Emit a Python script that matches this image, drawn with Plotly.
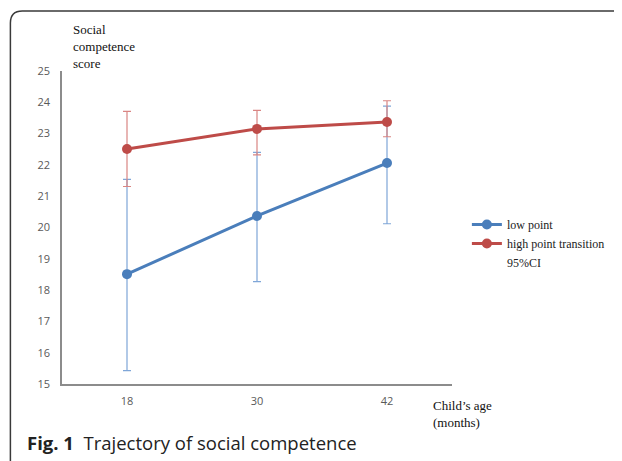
import plotly.graph_objects as go

ages = ["18", "30", "42"]
low_mean = [18.51, 20.37, 22.06]
low_upper = [21.54, 22.40, 23.88]
low_lower = [15.43, 18.27, 20.12]
high_mean = [22.51, 23.15, 23.37]
high_upper = [23.71, 23.74, 24.05]
high_lower = [21.31, 22.32, 22.90]
y_ticks = [15, 16, 17, 18, 19, 20, 21, 22, 23, 24, 25]

OFF = 8                  # page body margin
W, H = 622 - OFF, 461 - OFF
L, R, T, B = 62, 455, 71, 384  # plot area in screen pixels


def px(x):
    return (x - L) / (R - L)


def py(y):
    return (B - y) / (B - T)


BLUE = "#4A7EBB"
RED = "#BE4B48"
SERIF = "Liberation Serif, DejaVu Serif, serif"

fig = go.Figure()
fig.add_trace(go.Scatter(
    x=ages, y=low_mean, name="low point", mode="lines+markers",
    line=dict(color=BLUE, width=3), marker=dict(size=10, color=BLUE),
    error_y=dict(type="data", symmetric=False,
                 array=[u - m for u, m in zip(low_upper, low_mean)],
                 arrayminus=[m - l for m, l in zip(low_mean, low_lower)],
                 color="#7FA6D8", thickness=1.2, width=4),
))
fig.add_trace(go.Scatter(
    x=ages, y=high_mean, name="high point transition", mode="lines+markers",
    line=dict(color=RED, width=3), marker=dict(size=10, color=RED),
    error_y=dict(type="data", symmetric=False,
                 array=[u - m for u, m in zip(high_upper, high_mean)],
                 arrayminus=[m - l for m, l in zip(high_mean, high_lower)],
                 color="#D98583", thickness=1.2, width=4),
))
fig.add_trace(go.Scatter(
    x=[None], y=[None], name="95%CI", mode="lines",
    line=dict(color="rgba(0,0,0,0)", width=0),
))

tickfont = dict(family="Open Sans, sans-serif", size=11, color="#595959")
fig.update_layout(
    width=W, height=H,
    margin=dict(l=L - OFF, r=W - (R - OFF), t=T - OFF, b=H - (B - OFF)),
    paper_bgcolor="white", plot_bgcolor="white",
    showlegend=True,
    legend=dict(x=px(470), y=py(210), xanchor="left", yanchor="top",
                font=dict(family=SERIF, size=12, color="#222"),
                bgcolor="rgba(0,0,0,0)", itemwidth=30),
    xaxis=dict(type="category", range=[-0.5, 2.5], showgrid=False,
               showline=True, linecolor="#8C8C8C", linewidth=1.5,
               ticks="outside", ticklen=6, tickcolor="rgba(0,0,0,0)",
               tickfont=tickfont, zeroline=False),
    yaxis=dict(range=[15, 25], tickvals=y_ticks, showgrid=False,
               showline=True, linecolor="#8C8C8C", linewidth=1.5,
               ticks="outside", ticklen=8, tickcolor="rgba(0,0,0,0)",
               tickfont=tickfont, zeroline=False),
    font=dict(family=SERIF),
)

# y-axis title
fig.add_annotation(x=px(71), y=py(46.5), xref="paper", yref="paper",
                   xanchor="left", yanchor="middle", align="left", showarrow=False,
                   text="Social<br>competence<br>score",
                   font=dict(family=SERIF, size=13, color="#111"))
# x-axis title
fig.add_annotation(x=px(434), y=py(413.5), xref="paper", yref="paper",
                   xanchor="left", yanchor="middle", align="left", showarrow=False,
                   text="Child’s age<br>(months)",
                   font=dict(family=SERIF, size=13, color="#111"))
# caption
fig.add_annotation(x=px(25), y=py(443), xref="paper", yref="paper",
                   xanchor="left", yanchor="middle", align="left", showarrow=False,
                   text="<b>Fig. 1</b>  Trajectory of social competence",
                   font=dict(family="Open Sans, sans-serif", size=18.5, color="#222"))

# rounded frame around the figure
r = 12
x0, y0 = 10, 11
path = (f"M {px(x0)},{py(470)} L {px(x0)},{py(y0 + r)} "
        f"Q {px(x0)},{py(y0)} {px(x0 + r)},{py(y0)} L {px(630)},{py(y0)}")
fig.add_shape(type="path", path=path, xref="paper", yref="paper",
              line=dict(color="#3A3A3A", width=1.5), layer="above")

fig.write_html("out.html")
